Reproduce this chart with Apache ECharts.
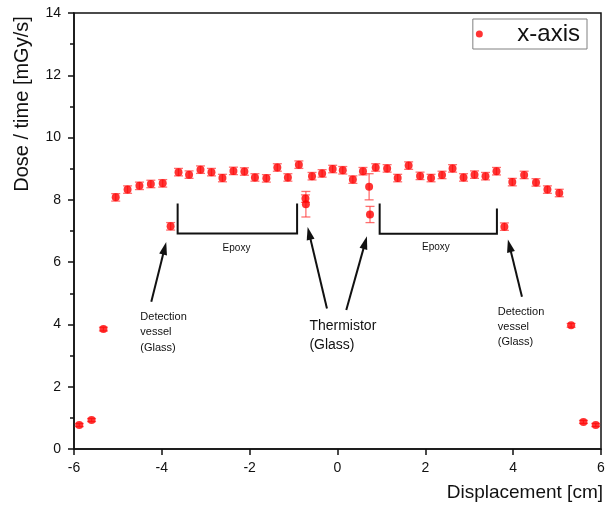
<!DOCTYPE html>
<html>
<head>
<meta charset="utf-8">
<script src="https://cdn.jsdelivr.net/npm/echarts@6/dist/echarts.min.js"></script>
<style>
  html, body { margin: 0; padding: 0; background: #fff; }
  #chart { width: 613px; height: 513px; }
</style>
</head>
<body>
<div id="chart"></div>
<script>
// Measured dose rate along the x-axis of the detector
const displacement = [
  -5.88, -5.60, -5.33,
  -5.05, -4.78, -4.51, -4.25, -3.98, -3.80, -3.62, -3.38, -3.12, -2.87, -2.62,
  -2.37, -2.12, -1.88, -1.62, -1.37, -1.13, -0.88, -0.73, -0.72, -0.58, -0.35,
  -0.11, 0.12, 0.35, 0.58, 0.72, 0.74, 0.87, 1.13, 1.37, 1.62, 1.88, 2.13,
  2.38, 2.62, 2.87, 3.12, 3.37, 3.62, 3.80, 3.98, 4.25, 4.52, 4.78, 5.05,
  5.32, 5.60, 5.88
];
const doseRate = [
  0.77, 0.93, 3.85,
  8.08, 8.33, 8.45, 8.51, 8.53, 7.15, 8.89, 8.81, 8.97, 8.89, 8.70,
  8.93, 8.91, 8.72, 8.69, 9.04, 8.72, 9.13, 8.04, 7.86, 8.76, 8.85,
  8.99, 8.95, 8.65, 8.92, 8.42, 7.53, 9.04, 9.01, 8.70, 9.10, 8.77, 8.70,
  8.80, 9.01, 8.72, 8.81, 8.76, 8.92, 7.14, 8.57, 8.80, 8.56, 8.33, 8.22,
  3.97, 0.87, 0.77
];
const doseErr = [
  0.05, 0.05, 0.06,
  0.12, 0.12, 0.12, 0.12, 0.12, 0.12, 0.12, 0.12, 0.12, 0.12, 0.12,
  0.12, 0.12, 0.12, 0.12, 0.12, 0.12, 0.12, 0.12, 0.41, 0.12, 0.12,
  0.12, 0.12, 0.12, 0.12, 0.42, 0.26, 0.12, 0.12, 0.12, 0.12, 0.12, 0.12,
  0.12, 0.12, 0.12, 0.12, 0.12, 0.12, 0.12, 0.12, 0.12, 0.12, 0.12, 0.12,
  0.06, 0.05, 0.05
];

const seriesName = 'x-axis';
const xLabel = 'Displacement [cm]';
const yLabel = 'Dose / time [mGy/s]';

// Annotation anchors, in data units (x in cm, y in mGy/s)
const epoxyRegions = [
  { from: -3.64, to: -0.92, bottom: 6.92, topL: 7.88, topR: 7.88, label: 'Epoxy', labelAt: [-2.30, 6.46] },
  { from: 0.96, to: 3.63, bottom: 6.91, topL: 7.88, topR: 7.72, label: 'Epoxy', labelAt: [2.24, 6.47] }
];
const arrows = [
  { tail: [-4.24, 4.73], tip: [-3.90, 6.65] },
  { tail: [-0.24, 4.51], tip: [-0.68, 7.13] },
  { tail: [0.20, 4.46], tip: [0.67, 6.83] },
  { tail: [4.20, 4.89], tip: [3.88, 6.73] }
];
const notes = [
  { text: 'Detection\nvessel\n(Glass)', at: [-4.49, 3.75], size: 11, lh: 15.5 },
  { text: 'Detection\nvessel\n(Glass)', at: [3.65, 3.92], size: 11, lh: 15 },
  { text: 'Thermistor\n(Glass)', at: [-0.64, 3.65], size: 14, lh: 19 }
];

const FONT = '"Liberation Sans", Arial, Helvetica, sans-serif';
const points = displacement.map((x, i) => [x, doseRate[i]]);
const bars = displacement.map((x, i) => [x, doseRate[i] - doseErr[i], doseRate[i] + doseErr[i]]);

const chart = echarts.init(document.getElementById('chart'), null, { renderer: 'canvas' });

function renderErrorBar(params, api) {
  const x = api.value(0);
  const pLo = api.coord([x, api.value(1)]);
  const pHi = api.coord([x, api.value(2)]);
  const w = 4.5;
  const style = { stroke: 'rgba(255, 50, 50, 0.7)', lineWidth: 1.3 };
  return {
    type: 'group',
    children: [
      { type: 'line', shape: { x1: pHi[0], y1: pHi[1], x2: pLo[0], y2: pLo[1] }, style },
      { type: 'line', shape: { x1: pHi[0] - w, y1: pHi[1], x2: pHi[0] + w, y2: pHi[1] }, style },
      { type: 'line', shape: { x1: pLo[0] - w, y1: pLo[1], x2: pLo[0] + w, y2: pLo[1] }, style }
    ]
  };
}

const axisCommon = {
  type: 'value',
  axisLine: { show: true, onZero: false, lineStyle: { color: '#111', width: 1.5 } },
  axisTick: { show: true, inside: false, length: 6, lineStyle: { color: '#111', width: 1.5 } },
  splitLine: { show: false },
  axisLabel: { color: '#111', fontSize: 14, fontFamily: FONT, margin: 12 }
};

chart.setOption({
  animation: false,
  backgroundColor: '#fff',
  grid: {
    left: 74, right: 12, top: 13, bottom: 64,
    show: true, borderColor: '#111', borderWidth: 1.5, backgroundColor: 'transparent'
  },
  legend: {
    data: [seriesName],
    right: 26, top: 19,
    padding: [3, 7, 3, 3],
    borderColor: '#808080', borderWidth: 1,
    icon: 'circle',
    itemWidth: 66, itemHeight: 7,
    textStyle: { fontSize: 24, fontFamily: FONT, color: '#111' },
    selectedMode: false
  },
  xAxis: Object.assign({}, axisCommon, {
    min: -6, max: 6, interval: 2,
    minorTick: { show: false },
    name: xLabel,
    nameLocation: 'end',
    nameGap: 2,
    nameTextStyle: { fontSize: 19, fontFamily: FONT, color: '#111', align: 'right', verticalAlign: 'top', padding: [34, 0, 0, 0] }
  }),
  yAxis: Object.assign({}, axisCommon, {
    min: 0, max: 14, interval: 2,
    minorTick: { show: true, splitNumber: 2, length: 4, lineStyle: { color: '#111', width: 1.5 } },
    axisLabel: { color: '#111', fontSize: 14, fontFamily: FONT, margin: 13 }
  }),
  series: [
    {
      type: 'custom',
      name: 'errors',
      renderItem: renderErrorBar,
      data: bars,
      encode: { x: 0, y: [1, 2] },
      z: 2,
      silent: true
    },
    {
      type: 'scatter',
      name: seriesName,
      data: points,
      symbol: 'circle',
      symbolSize: 8,
      itemStyle: { color: '#ff0000' },
      z: 3
    }
  ]
});

// Brackets, arrows and captions placed in data coordinates
function px(p) { return chart.convertToPixel({ gridIndex: 0 }, p); }

const graphics = [];
const ink = '#111';

// rotated y-axis title
graphics.push({
  type: 'text', x: 22, y: 104, rotation: Math.PI / 2,
  style: { text: yLabel, font: '20px ' + FONT, fill: ink, textAlign: 'center', textVerticalAlign: 'middle' }
});

epoxyRegions.forEach(r => {
  const a = px([r.from, r.topL]), b = px([r.from, r.bottom]);
  const c = px([r.to, r.bottom]), d = px([r.to, r.topR]);
  graphics.push({
    type: 'polyline',
    shape: { points: [a, b, c, d] },
    style: { stroke: ink, lineWidth: 2, fill: null }
  });
  const l = px(r.labelAt);
  graphics.push({
    type: 'text', x: l[0], y: l[1],
    style: { text: r.label, font: '10px ' + FONT, fill: ink, textAlign: 'center', textVerticalAlign: 'middle' }
  });
});

arrows.forEach(a => {
  const t = px(a.tail), h = px(a.tip);
  const dx = h[0] - t[0], dy = h[1] - t[1];
  const len = Math.hypot(dx, dy);
  const ux = dx / len, uy = dy / len;
  const headLen = 13, halfW = 4;
  const bx = h[0] - ux * headLen, by = h[1] - uy * headLen;
  graphics.push({
    type: 'line',
    shape: { x1: t[0], y1: t[1], x2: bx + ux * 2, y2: by + uy * 2 },
    style: { stroke: ink, lineWidth: 2 }
  });
  graphics.push({
    type: 'polygon',
    shape: { points: [h, [bx - uy * halfW, by + ux * halfW], [bx + uy * halfW, by - ux * halfW]] },
    style: { fill: ink }
  });
});

notes.forEach(n => {
  const p = px(n.at);
  graphics.push({
    type: 'text', x: p[0], y: p[1],
    style: { text: n.text, font: n.size + 'px ' + FONT, fill: ink, textAlign: 'left', textVerticalAlign: 'middle', lineHeight: n.lh }
  });
});

chart.setOption({ graphic: graphics });
</script>
</body>
</html>
